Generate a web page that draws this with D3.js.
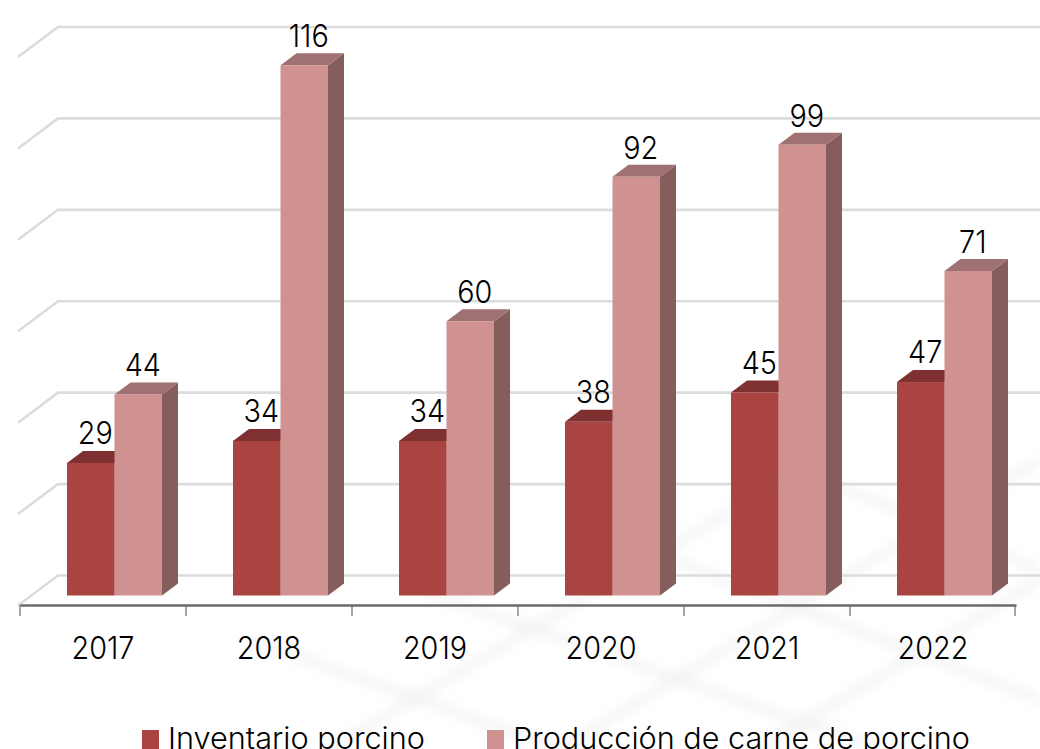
<!DOCTYPE html>
<html><head><meta charset="utf-8">
<script src="https://cdn.jsdelivr.net/npm/d3@7"></script>
<style>html,body{margin:0;padding:0;background:#fff;overflow:hidden}svg{display:block}</style>
</head><body><svg id="c" width="1040" height="749"></svg>
<script>
const years = ["2017","2018","2019","2020","2021","2022"];
const inventarioLabels = ["29","34","34","38","45","47"];
const produccionLabels = ["44","116","60","92","99","71"];
// bar heights (source values are unrounded)
const inventario = [29,33.8,33.8,38,44.4,46.7];
const produccion = [44,116,60,91.6,98.6,71];
const gridValues = [0,20,40,60,80,100,120];
const seriesNames = ["Inventario porcino","Producción de carne de porcino"];
const wmDiagonals = [[330,749,800,470],[560,749,1040,460],[760,749,1040,580],[250,640,560,749],[420,590,880,749],[620,540,1040,700],[800,470,1040,570]];

const FONT = "Inter, 'Open Sans', sans-serif";
const svg = d3.select("#c");
const defs = svg.append("defs");
defs.append("filter").attr("id","blur").append("feGaussianBlur").attr("stdDeviation",6);
svg.append("rect").attr("width",1040).attr("height",749).attr("fill","#fff");
svg.append("g").attr("filter","url(#blur)").selectAll("line").data(wmDiagonals).join("line")
  .attr("x1",d=>d[0]).attr("y1",d=>d[1]).attr("x2",d=>d[2]).attr("y2",d=>d[3])
  .attr("stroke","#e4e4e6").attr("stroke-width",7).attr("opacity",.5);

const x = d3.scaleBand().domain(years).range([20,1016]);
const y = d3.scaleLinear().domain([0,120]).range([595.5,47]);
const depthX = 16, depthY = 12, barW = 47.5, inset = 47;

const grid = svg.append("g").attr("fill","none").attr("stroke","#dcdcdc").attr("stroke-width",2.6);
grid.selectAll("path").data(gridValues).join("path")
  .attr("d",v=>`M18,${y(v)+10}L58,${y(v)-20}L1040,${y(v)-20}`);

function drawSeries(values, i, front, top, side){
  const g = svg.append("g");
  years.forEach((yr,k)=>{
    const x0 = x(yr)+inset+i*barW, x1 = x0+barW, yt = y(values[k]), yb = y(0);
    g.append("path").attr("fill",side)
      .attr("d",`M${x1},${yt}L${x1+depthX},${yt-depthY}L${x1+depthX},${yb-depthY}L${x1},${yb}Z`);
    g.append("path").attr("fill",top)
      .attr("d",`M${x0},${yt}L${x0+depthX},${yt-depthY}L${x1+depthX},${yt-depthY}L${x1},${yt}Z`);
    g.append("rect").attr("x",x0).attr("y",yt).attr("width",barW).attr("height",yb-yt).attr("fill",front);
  });
}
drawSeries(inventario,0,"#aa4441","#7f3030","#7f3030");
drawSeries(produccion,1,"#d09191","#a07172","#855d5d");

const SX = 0.93;
function label(t,cx,by,size){
  svg.append("text").attr("transform",`translate(${cx},${by}) scale(${SX},1)`)
    .attr("text-anchor","middle").attr("font-family",FONT).attr("font-weight",300)
    .attr("font-size",size).attr("fill","#000").text(t);
}
years.forEach((yr,k)=>{
  const c0 = x(yr)+inset+barW/2+4.5;
  label(inventarioLabels[k],c0,y(inventario[k])-19,31);
  label(produccionLabels[k],c0+barW,y(produccion[k])-18,31);
});

const axisG = svg.append("g").attr("transform","translate(0,605)")
  .call(d3.axisBottom(x).tickSize(0).tickFormat(""));
axisG.selectAll(".tick").remove();
axisG.select(".domain").attr("stroke","#6b6b6b").attr("stroke-width",2.4);
const edges = years.map(d=>x(d)).concat([1015]);
svg.append("g").selectAll("line").data(edges).join("line")
  .attr("x1",d=>d).attr("x2",d=>d).attr("y1",605).attr("y2",616).attr("stroke","#6b6b6b").attr("stroke-width",1.2);
years.forEach(yr=>label(yr,x(yr)+x.bandwidth()/2,659,31));

// legend, cut off by the bottom edge as in the source
const lg = [[142,168,"#aa4441",257],[487,513,"#d09191",457]];
lg.forEach((l,i)=>{
  svg.append("rect").attr("x",l[0]).attr("y",730).attr("width",17).attr("height",19).attr("fill",l[2]);
  svg.append("text").attr("x",l[1]).attr("y",749).attr("font-family",FONT).attr("font-weight",300)
    .attr("font-size",30).attr("fill","#000").attr("textLength",l[3]).attr("lengthAdjust","spacingAndGlyphs").text(seriesNames[i]);
});
</script></body></html>
